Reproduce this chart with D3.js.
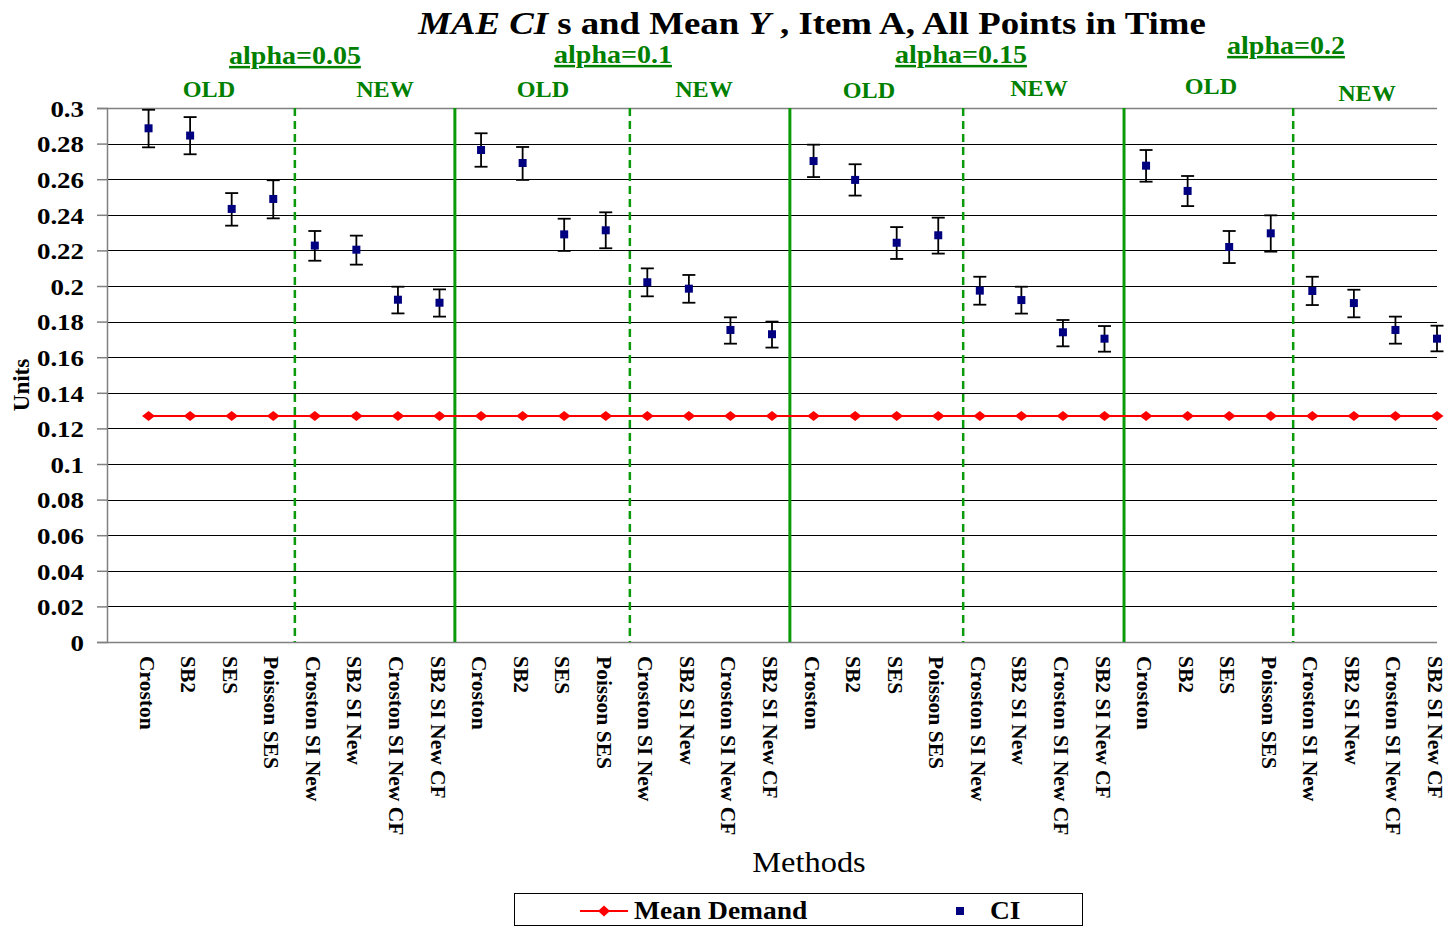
<!DOCTYPE html>
<html>
<head>
<meta charset="utf-8">
<script src="https://cdn.jsdelivr.net/npm/d3@7"></script>
<style>
  html, body { margin: 0; padding: 0; background: #fff; }
  svg { display: block; font-family: "Liberation Serif", "Times New Roman", serif; }
</style>
</head>
<body>
<svg id="chart" width="1450" height="929"></svg>
<script>
// ---------- DATA ----------
const methods = ["Croston", "SB2", "SES", "Poisson SES", "Croston SI New", "SB2 SI New", "Croston SI New CF", "SB2 SI New CF"];
const categories = [].concat(methods, methods, methods, methods);

const ciMean = [
  0.2886, 0.2845, 0.2433, 0.2489, 0.2227, 0.2204, 0.1923, 0.1906,
  0.2764, 0.2691, 0.2290, 0.2313, 0.2021, 0.1985, 0.1753, 0.1729,
  0.2702, 0.2596, 0.2243, 0.2285, 0.1974, 0.1921, 0.1740, 0.1704,
  0.2676, 0.2534, 0.2219, 0.2296, 0.1972, 0.1904, 0.1753, 0.1704
];
const ciHigh = [
  0.2990, 0.2949, 0.2522, 0.2594, 0.2309, 0.2283, 0.1996, 0.1981,
  0.2858, 0.2781, 0.2378, 0.2414, 0.2099, 0.2062, 0.1824, 0.1800,
  0.2794, 0.2684, 0.2331, 0.2384, 0.2052, 0.1996, 0.1809, 0.1775,
  0.2764, 0.2618, 0.2309, 0.2397, 0.2052, 0.1979, 0.1828, 0.1777
];
const ciLow = [
  0.2779, 0.2740, 0.2339, 0.2380, 0.2142, 0.2120, 0.1846, 0.1828,
  0.2670, 0.2596, 0.2197, 0.2212, 0.1942, 0.1906, 0.1676, 0.1654,
  0.2612, 0.2508, 0.2152, 0.2182, 0.1895, 0.1845, 0.1661, 0.1631,
  0.2586, 0.2449, 0.2129, 0.2193, 0.1893, 0.1824, 0.1676, 0.1633
];
const meanDemand = [
  0.127, 0.127, 0.127, 0.127, 0.127, 0.127, 0.127, 0.127,
  0.127, 0.127, 0.127, 0.127, 0.127, 0.127, 0.127, 0.127,
  0.127, 0.127, 0.127, 0.127, 0.127, 0.127, 0.127, 0.127,
  0.127, 0.127, 0.127, 0.127, 0.127, 0.127, 0.127, 0.127
];
const yTicks = [0, 0.02, 0.04, 0.06, 0.08, 0.1, 0.12, 0.14, 0.16, 0.18, 0.2, 0.22, 0.24, 0.26, 0.28, 0.3];
const alphaLabels = ["alpha=0.05", "alpha=0.1", "alpha=0.15", "alpha=0.2"];
const groupLabels = ["OLD", "NEW", "OLD", "NEW", "OLD", "NEW", "OLD", "NEW"];

// ---------- LAYOUT ----------
const solidSeps = [7.37, 15.43, 23.47];          // in category-index units
const dashedSeps = [3.52, 11.58, 19.6, 27.54];
const alphaPos = [{x: 295, y: 64}, {x: 613, y: 63}, {x: 961, y: 63}, {x: 1286, y: 54}];
const groupPos = [
  {x: 209, y: 97}, {x: 385, y: 97}, {x: 543, y: 97}, {x: 704, y: 97},
  {x: 869, y: 98}, {x: 1039, y: 96}, {x: 1211, y: 94}, {x: 1367, y: 101}
];

const svg = d3.select("#chart");
const x = d3.scaleLinear().domain([-1, 31]).range([107, 1437]);
const y = d3.scaleLinear().domain([0, 0.3]).range([642, 108]);
const plotL = 107, plotR = 1437;

// horizontally stretched text helper (the source font renders wider than Times)
function stretched(parent, px, py, sx) {
  return parent.append("g").attr("transform", `translate(${px},${py}) scale(${sx},1)`)
    .append("text").attr("x", 0).attr("y", 0);
}

// gridlines
svg.append("g").selectAll("line").data(yTicks).join("line")
  .attr("x1", plotL).attr("x2", plotR)
  .attr("y1", d => Math.round(y(d)) + 0.5).attr("y2", d => Math.round(y(d)) + 0.5)
  .attr("stroke", d => (d === 0 || d === 0.3) ? "#808080" : "#000")
  .attr("stroke-width", d => (d === 0 || d === 0.3) ? 1.5 : 1);

// y axis
const yAxis = d3.axisLeft(y).tickValues(yTicks).tickSize(10).tickPadding(12)
  .tickFormat(d => d3.format("")(+d.toFixed(2)));
const gy = svg.append("g").attr("transform", `translate(${plotL},0)`).call(yAxis);
gy.select(".domain").attr("stroke", "#808080").attr("stroke-width", 1.5);
gy.selectAll(".tick line").attr("stroke", "#808080").attr("stroke-width", 1.5);
gy.selectAll(".tick text")
  .attr("font-family", "Liberation Serif, serif")
  .attr("font-weight", "bold").attr("font-size", 23).attr("fill", "#000")
  .attr("x", -23 / 1.17)
  .attr("transform", "scale(1.17,1)")
  .attr("dy", "0.36em");

// y title
svg.append("text").attr("transform", "translate(29,385) rotate(-90)")
  .attr("text-anchor", "middle").attr("font-weight", "bold").attr("font-size", 23)
  .text("Units");

// x category labels
svg.append("g").selectAll("text").data(categories).join("text")
  .attr("transform", (d, i) => `translate(${x(i)},656) rotate(90)`)
  .attr("x", 0).attr("y", 9)
  .attr("font-weight", "bold").attr("font-size", 21.5)
  .text(d => d);

// x title
stretched(svg, 809, 872, 1.08).attr("text-anchor", "middle")
  .attr("font-size", 30).text("Methods");

// separators
svg.append("g").selectAll("line").data(solidSeps).join("line")
  .attr("x1", d => x(d)).attr("x2", d => x(d)).attr("y1", y(0.3)).attr("y2", y(0))
  .attr("stroke", "#0a9a0a").attr("stroke-width", 3);
svg.append("g").selectAll("line").data(dashedSeps).join("line")
  .attr("x1", d => x(d)).attr("x2", d => x(d)).attr("y1", y(0.3)).attr("y2", y(0))
  .attr("stroke", "#0a9a0a").attr("stroke-width", 2.5).attr("stroke-dasharray", "8,5");

// diamond marker path (wider than tall)
function diamondPath(w, h) {
  return `M${-w / 2},0 L0,${-h / 2} L${w / 2},0 L0,${h / 2} Z`;
}

// mean demand line
const line = d3.line().x((d, i) => x(i)).y(d => y(d));
svg.append("path").datum(meanDemand).attr("d", line)
  .attr("fill", "none").attr("stroke", "#ff0000").attr("stroke-width", 2);
svg.append("g").selectAll("path").data(meanDemand).join("path")
  .attr("transform", (d, i) => `translate(${x(i)},${y(d)})`)
  .attr("d", diamondPath(13, 10)).attr("fill", "#ff0000");

// error bars
const eb = svg.append("g").selectAll("g").data(ciMean).join("g");
eb.append("line")
  .attr("x1", (d, i) => x(i)).attr("x2", (d, i) => x(i))
  .attr("y1", (d, i) => y(ciHigh[i])).attr("y2", (d, i) => y(ciLow[i]))
  .attr("stroke", "#000").attr("stroke-width", 1.8);
eb.append("line")
  .attr("x1", (d, i) => x(i) - 6.5).attr("x2", (d, i) => x(i) + 6.5)
  .attr("y1", (d, i) => y(ciHigh[i])).attr("y2", (d, i) => y(ciHigh[i]))
  .attr("stroke", "#000").attr("stroke-width", 1.8);
eb.append("line")
  .attr("x1", (d, i) => x(i) - 6.5).attr("x2", (d, i) => x(i) + 6.5)
  .attr("y1", (d, i) => y(ciLow[i])).attr("y2", (d, i) => y(ciLow[i]))
  .attr("stroke", "#000").attr("stroke-width", 1.8);
eb.append("rect")
  .attr("x", (d, i) => x(i) - 4).attr("y", d => y(d) - 4)
  .attr("width", 8).attr("height", 8).attr("fill", "#000080");

// title
const title = stretched(svg, 812, 34, 1.15).attr("text-anchor", "middle")
  .attr("font-weight", "bold").attr("font-size", 32);
title.append("tspan").attr("font-style", "italic").text("MAE CI");
title.append("tspan").text(" s and Mean ");
title.append("tspan").attr("font-style", "italic").text("Y");
title.append("tspan").text(" , Item A, All Points in Time");

// alpha labels
alphaLabels.forEach((lab, i) => {
  stretched(svg, alphaPos[i].x, alphaPos[i].y, 1.12)
    .attr("text-anchor", "middle").attr("font-weight", "bold").attr("font-size", 25)
    .attr("fill", "#008000").attr("text-decoration", "underline")
    .text(lab);
});

// OLD / NEW labels
groupLabels.forEach((lab, i) => {
  stretched(svg, groupPos[i].x, groupPos[i].y, 1.05)
    .attr("text-anchor", "middle").attr("font-weight", "bold").attr("font-size", 23)
    .attr("fill", "#008000")
    .text(lab);
});

// legend
const lg = svg.append("g");
lg.append("rect").attr("x", 514.5).attr("y", 893.5).attr("width", 568).attr("height", 32)
  .attr("fill", "#fff").attr("stroke", "#000").attr("stroke-width", 1);
lg.append("line").attr("x1", 580).attr("x2", 628).attr("y1", 911).attr("y2", 911)
  .attr("stroke", "#ff0000").attr("stroke-width", 2);
lg.append("path").attr("transform", "translate(604,911)").attr("d", diamondPath(12, 11)).attr("fill", "#ff0000");
stretched(lg, 634, 919, 1.1).attr("font-weight", "bold").attr("font-size", 25)
  .text("Mean Demand");
lg.append("rect").attr("x", 956).attr("y", 907).attr("width", 8).attr("height", 8).attr("fill", "#000080");
stretched(lg, 990, 919, 1.1).attr("font-weight", "bold").attr("font-size", 25)
  .text("CI");
</script>
</body>
</html>
